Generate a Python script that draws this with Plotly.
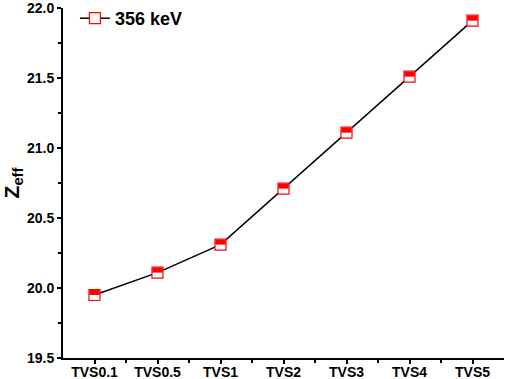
import plotly.graph_objects as go

categories = ["TVS0.1", "TVS0.5", "TVS1", "TVS2", "TVS3", "TVS4", "TVS5"]
zeff_356 = [19.95, 20.11, 20.31, 20.71, 21.11, 21.51, 21.91]
series_name = "356 keV"
ytick_vals = [19.5, 20.0, 20.5, 21.0, 21.5, 22.0]
yminor_vals = [19.75, 20.25, 20.75, 21.25, 21.75]

W, H = 505, 379
ml, mr, mt, mb = 63, 1, 7, 21
yrange = [19.5, 22.0005]
plot_h = H - mt - mb
px_to_y = (yrange[1] - yrange[0]) / plot_h

xs = list(range(len(categories)))
font = "Arial, Liberation Sans, sans-serif"

fig = go.Figure()
fig.add_trace(go.Scatter(
    x=xs, y=zeff_356, mode="lines+markers", name=series_name,
    line=dict(color="black", width=1.5),
    marker=dict(symbol="square", size=11, color="white",
                line=dict(color="#ff0000", width=1.2)),
))
# top half filled overlay
fig.add_trace(go.Scatter(
    x=xs, y=[v + 2.5 * px_to_y for v in zeff_356], mode="markers",
    showlegend=False, hoverinfo="skip",
    marker=dict(symbol="line-ew", size=7.4,
                line=dict(color="#ff0000", width=5)),
))

axis_common = dict(
    showline=True, linecolor="black", linewidth=2, ticks="outside",
    ticklen=4, tickwidth=2, tickcolor="black", showgrid=False, zeroline=False,
    tickfont=dict(family=font, size=14, color="black", weight="bold"),
    mirror=False, ticklabeloverflow="allow", automargin=False,
)
fig.update_layout(
    template="none",
    width=W, height=H, margin=dict(l=ml, r=mr, t=mt, b=mb),
    paper_bgcolor="white", plot_bgcolor="white",
    xaxis=dict(range=[-0.5, 6.5], tickmode="array", tickvals=xs,
               ticktext=categories, ticklabelstandoff=-4, **axis_common,
               minor=dict(tickmode="array", tickvals=[i + 0.5 for i in xs[:-1]],
                          ticks="outside", ticklen=3, tickwidth=2, tickcolor="black")),
    yaxis=dict(range=yrange, tickmode="array",
               tickvals=ytick_vals, tickformat=".1f",
               **axis_common,
               title=dict(text="Z<sub>eff</sub>", standoff=10,
                          font=dict(family=font, size=21, color="black", weight="bold")),
               minor=dict(tickmode="array", tickvals=yminor_vals,
                          ticks="outside", ticklen=3, tickwidth=2,
                          tickcolor="black")),
    showlegend=True,
    legend=dict(x=0.027, y=1.02, xanchor="left", yanchor="top",
                bgcolor="rgba(0,0,0,0)",
                font=dict(family=font, size=18, color="black", weight="bold")),
)
fig.write_html("out.html", config={"displayModeBar": False},
               post_script="document.body.style.margin='0';document.body.style.overflow='hidden';")
